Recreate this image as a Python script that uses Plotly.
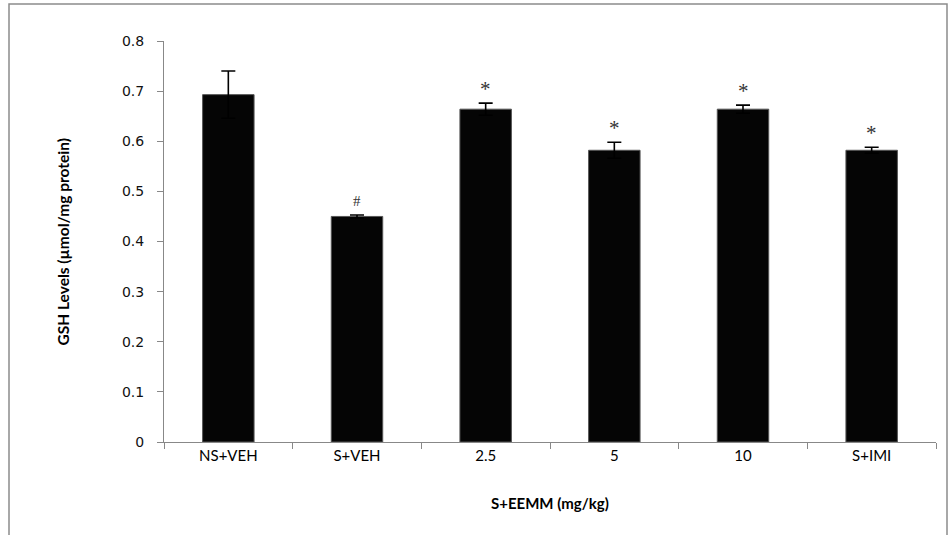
import plotly.graph_objects as go

categories = ["NS+VEH", "S+VEH", "2.5", "5", "10", "S+IMI"]
gsh_values = [0.693, 0.450, 0.664, 0.582, 0.664, 0.582]
gsh_errors = [0.047, 0.003, 0.012, 0.016, 0.008, 0.006]
sig_marks = ["", "#", "*", "*", "*", "*"]
y_ticks = [0, 0.1, 0.2, 0.3, 0.4, 0.5, 0.6, 0.7, 0.8]

W, H = 949, 535
L, R, T, B = 164, 13, 41, 93
pw, ph = W - L - R, H - T - B

def px_x(x):
    return (x - L) / pw

def px_y(y):
    return (H - B - y) / ph

fig = go.Figure()
fig.add_trace(go.Bar(
    x=categories, y=gsh_values,
    marker=dict(color="#050505", line=dict(color="#555555", width=1)),
    error_y=dict(type="data", array=gsh_errors, visible=True,
                 color="black", thickness=1.6, width=7),
    width=0.4,
    hoverinfo="x+y",
))

annotations = []
for i, (v, e, m) in enumerate(zip(gsh_values, gsh_errors, sig_marks)):
    if m:
        annotations.append(dict(
            x=i, y=v + e, xref="x", yref="y", text=m, showarrow=False,
            yanchor="bottom", yshift=0 if m == "*" else 4,
            font=dict(family="Liberation Serif, serif", size=21 if m == "*" else 15, color="#333333"),
        ))

annotations.append(dict(
    x=px_x(62), y=0.5, xref="paper", yref="paper",
    text="<b>GSH Levels (µmol/mg protein)</b>", textangle=-90, showarrow=False,
    xanchor="center", yanchor="middle",
    font=dict(family="Lato, sans-serif", size=15.5, color="black"),
))
annotations.append(dict(
    x=0.5, y=px_y(503), xref="paper", yref="paper",
    text="<b>S+EEMM (mg/kg)</b>", showarrow=False,
    xanchor="center", yanchor="middle",
    font=dict(family="Lato, sans-serif", size=15, color="black"),
))

fig.update_layout(
    width=W, height=H,
    margin=dict(l=L, r=R, t=T, b=B, pad=0),
    paper_bgcolor="white", plot_bgcolor="white",
    showlegend=False,
    annotations=annotations,
    shapes=[dict(
        type="rect", xref="paper", yref="paper",
        x0=px_x(9), x1=px_x(947), y0=px_y(540), y1=px_y(4),
        line=dict(color="#8c8c8c", width=1.5), fillcolor="rgba(0,0,0,0)", layer="below",
    )],
    xaxis=dict(
        type="category",
        range=[-0.5, 5.5], showline=True, linecolor="#888888", linewidth=1,
        ticks="outside", ticklen=6, tickcolor="#888888", tickson="boundaries",
        showgrid=False, zeroline=False,
        tickfont=dict(family="Lato, sans-serif", size=15, color="black"),
    ),
    yaxis=dict(
        range=[0, 0.8], tickvals=y_ticks, ticktext=[("%g" % t) for t in y_ticks],
        showline=True, linecolor="#888888", linewidth=1,
        ticks="outside", ticklen=6, tickcolor="#888888",
        showgrid=False, zeroline=False,
        tickfont=dict(family="DejaVu Sans, sans-serif", size=14, color="#111111"),
        ticklabelstandoff=10,
    ),
)

fig.write_html("out.html")
